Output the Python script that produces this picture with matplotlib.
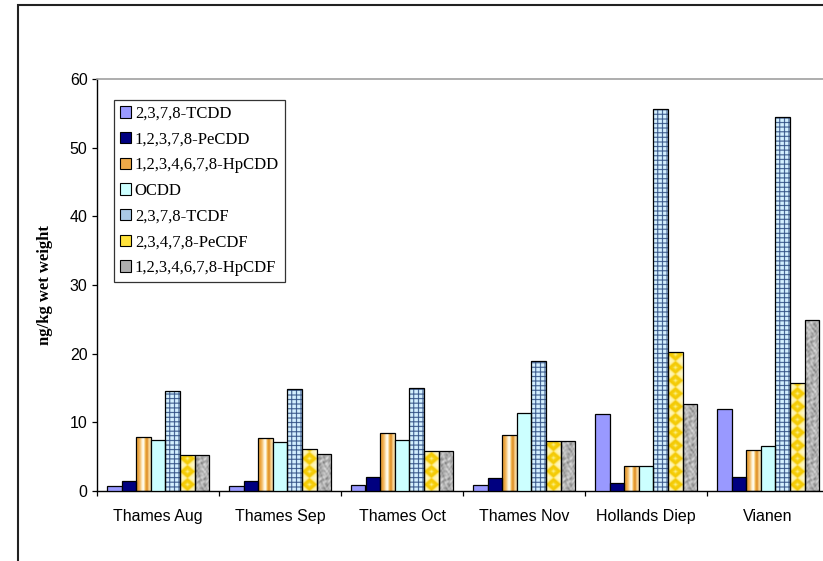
import numpy as np
import matplotlib
matplotlib.use('Agg')
import matplotlib.pyplot as plt
from matplotlib.patches import Rectangle, Patch
from matplotlib.colors import to_rgb

# ---------------- data ----------------
categories = ['Thames Aug', 'Thames Sep', 'Thames Oct', 'Thames Nov', 'Hollands Diep', 'Vianen']
series_names = ['2,3,7,8-TCDD', '1,2,3,7,8-PeCDD', '1,2,3,4,6,7,8-HpCDD', 'OCDD',
                '2,3,7,8-TCDF', '2,3,4,7,8-PeCDF', '1,2,3,4,6,7,8-HpCDF']
tcdd = [0.7, 0.7, 0.9, 0.9, 11.2, 12.0]
pecdd = [1.5, 1.5, 2.0, 1.9, 1.2, 2.1]
hpcdd = [7.9, 7.7, 8.5, 8.1, 3.6, 6.0]
ocdd = [7.5, 7.1, 7.5, 11.4, 3.6, 6.5]
tcdf = [14.6, 14.8, 15.0, 18.9, 55.6, 54.5]
pecdf = [5.2, 6.1, 5.8, 7.3, 20.2, 15.7]
hpcdf = [5.2, 5.4, 5.8, 7.3, 12.6, 24.9]
yticks = [0, 10, 20, 30, 40, 50, 60]
ylabel = 'ng/kg wet weight'

series_values = [tcdd, pecdd, hpcdd, ocdd, tcdf, pecdf, hpcdf]

# ---------------- styling ----------------
W, H = 823, 561
fig = plt.figure(figsize=(W / 100, H / 100), dpi=100)
ax_l, ax_b, ax_w, ax_h = 97, 491, 732, 412
ax = fig.add_axes([ax_l / W, 1 - ax_b / H, ax_w / W, ax_h / H])

ppx = ax_w / len(categories)   # pixels per x unit
ppy = ax_h / 60.0              # pixels per y unit
SS = 4                          # supersampling for textures


def lerp_colors(t, stops):
    pos = [s[0] for s in stops]
    cols = np.array([to_rgb(s[1]) for s in stops])
    out = np.stack([np.interp(t, pos, cols[:, k]) for k in range(3)], axis=-1)
    return out


def tex_hpcdd(hp, wp):
    x = (np.arange(wp * SS) + 0.5) / (wp * SS)
    stops = [(0.0, '#f6cf80'), (0.12, '#e89a2c'), (0.28, '#f4c070'), (0.42, '#fff6dc'),
             (0.52, '#fffdf4'), (0.62, '#f2b850'), (0.74, '#dc8a22'), (0.86, '#f6d08c'), (1.0, '#fde6b4')]
    row = lerp_colors(x, stops)
    return np.repeat(row[None, :, :], hp * SS, axis=0)


def tex_tcdf(hp, wp):
    period = 4.6
    xs = (np.arange(wp * SS) + 0.5) / SS
    ys = (np.arange(hp * SS) + 0.5) / SS
    X, Y = np.meshgrid(xs, ys)
    lx = ((X + 0.3) % period) < 1.0
    ly = ((Y + 1.0) % period) < 1.0
    base = np.array(to_rgb('#d4f0ff'))
    line = np.array(to_rgb('#2d4c82'))
    img = np.empty(X.shape + (3,))
    img[:] = base
    img[lx | ly] = line
    return img


def tex_pecdf(hp, wp):
    period = 13.0
    xs = (np.arange(wp * SS) + 0.5) / (wp * SS)
    ys = (np.arange(hp * SS) + 0.5) / SS
    X, Y = np.meshgrid(xs, ys)
    v = (Y % period) / period
    d = np.abs(X - 0.5) + np.abs(v - 0.5)
    d = np.clip(d, 0, 1)
    stops = [(0.0, '#fff6a0'), (0.2, '#f5d010'), (0.42, '#f4c800'), (0.6, '#fff2a0'), (1.0, '#fffbe0')]
    return lerp_colors(d, stops)


def tex_hpcdf(hp, wp):
    xs = (np.arange(wp * SS) + 0.5) / SS
    ys = (np.arange(hp * SS) + 0.5) / SS
    X, Y = np.meshgrid(xs, ys)
    g = (np.sin(X * 0.9 + 2.2 * np.sin(Y * 0.31)) * np.cos(Y * 0.47 + X * 0.35)
         + 0.6 * np.sin(Y * 1.3 + 1.7 * np.cos(X * 0.7)) * np.sin(X * 1.1 - Y * 0.2))
    g = (g - g.min()) / (g.max() - g.min() + 1e-9)
    stops = [(0.0, '#7a7a7a'), (0.35, '#a4a4a4'), (0.7, '#c4c4c4'), (1.0, '#dedede')]
    return lerp_colors(g, stops)


flat_colors = {0: '#9999ff', 1: '#000080', 3: '#ccffff'}
textures = {2: tex_hpcdd, 4: tex_tcdf, 5: tex_pecdf, 6: tex_hpcdf}
legend_colors = ['#9999ff', '#000080', '#eeaa48', '#ccffff', '#a9c9e6', '#ffe23a', '#b0b0b0']

n = len(series_names)
bw = 14.6 / ppx
xc = np.arange(len(categories)) + 0.5

for j, vals in enumerate(series_values):
    xs = xc + (j - (n - 1) / 2) * bw
    if j in flat_colors:
        ax.bar(xs, vals, width=bw, color=flat_colors[j], edgecolor='black', linewidth=0.9, zorder=3)
    else:
        bars = ax.bar(xs, vals, width=bw, facecolor='none', edgecolor='black', linewidth=0.9, zorder=3)
        for b, v, x in zip(bars, vals, xs):
            hp = max(1, int(round(v * ppy)))
            wp = max(1, int(round(bw * ppx)))
            img = textures[j](hp, wp)
            im = ax.imshow(img, extent=(x - bw / 2, x + bw / 2, 0, v), origin='lower',
                           aspect='auto', interpolation='antialiased', zorder=2)
            im.set_clip_path(b)

ax.set_xlim(0, len(categories))
ax.set_ylim(0, 60)
ax.set_aspect('auto')

# spines
for s in ['top', 'right']:
    ax.spines[s].set_color('#a0a0a0')
    ax.spines[s].set_linewidth(1.2)
ax.spines['left'].set_color('black')
ax.spines['bottom'].set_color('black')
ax.spines['left'].set_linewidth(1.0)
ax.spines['bottom'].set_linewidth(1.0)

# ticks
ax.set_yticks(yticks)
ax.set_yticklabels([str(t) for t in yticks], fontfamily='Liberation Sans', fontsize=11.5)
ax.tick_params(axis='y', direction='out', length=3.8, width=0.9, pad=3)
ax.set_xticks(np.arange(len(categories) + 1))
ax.set_xticklabels([''] * (len(categories) + 1))
ax.tick_params(axis='x', which='major', direction='out', length=3.8, width=0.9)
ax.set_xticks(xc, minor=True)
ax.set_xticklabels(categories, minor=True, fontfamily='Liberation Sans', fontsize=11.5)
ax.tick_params(axis='x', which='minor', length=0, pad=13)

ax.set_ylabel(ylabel, fontfamily='Liberation Serif', fontweight='bold', fontsize=12)
ax.yaxis.set_label_coords((53 - ax_l) / ax_w, 0.5)

# legend
handles = [Patch(facecolor=c, edgecolor='black', linewidth=0.8) for c in legend_colors]
leg = ax.legend(handles, series_names, loc='upper left',
                bbox_to_anchor=((114 - ax_l) / ax_w, (ax_b - 100) / ax_h),
                borderaxespad=0, prop={'family': 'Liberation Serif', 'size': 12},
                handlelength=0.65, handleheight=0.65, handletextpad=0.25,
                labelspacing=0.58, borderpad=0.35, frameon=True, fancybox=False)
leg.get_frame().set_edgecolor('black')
leg.get_frame().set_linewidth(0.9)

# outer chart frame
frame = Rectangle((18 / W, -0.05), 1.05, (1 - 5 / H) + 0.05, transform=fig.transFigure,
                  fill=False, edgecolor='#222222', linewidth=1.5, clip_on=False)
fig.add_artist(frame)

fig.savefig('out.png', dpi=100)
